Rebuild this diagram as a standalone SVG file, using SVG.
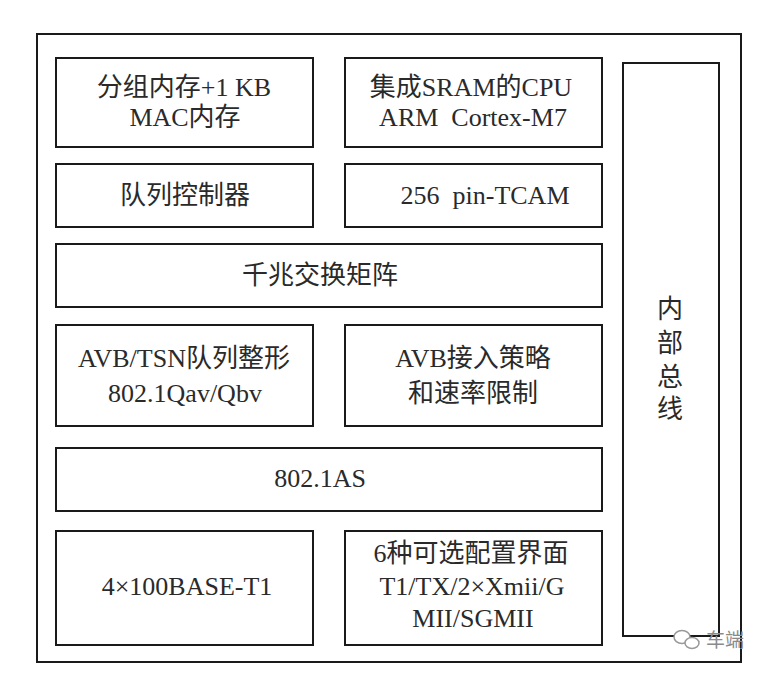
<svg xmlns="http://www.w3.org/2000/svg" width="770" height="674" viewBox="0 0 770 674">
<style>
.box{fill:#fff;stroke:#1a1a1a;stroke-width:2}
.t{font-family:"Liberation Serif","Noto Sans CJK SC",serif;font-size:26px;fill:#2a2a2a;text-anchor:middle}
.wm{font-family:"Noto Sans CJK SC",sans-serif;font-size:19px;fill:#8a8a8a}
</style>
<rect width="770" height="674" fill="#fff"/>
<g id="outer"><rect class="box" x="37" y="34" width="704" height="628"/></g>
<g id="mem"><rect class="box" x="56" y="58" width="257" height="89"/>
<text class="t" x="184" y="96">分组内存+1 KB</text><text class="t" x="185" y="126">MAC内存</text></g>
<g id="cpu"><rect class="box" x="345" y="58" width="257" height="89"/>
<text class="t" x="471" y="96">集成SRAM的CPU</text><text class="t" x="473" y="126" xml:space="preserve">ARM  Cortex-M7</text></g>
<g id="queue"><rect class="box" x="56" y="164" width="257" height="63"/>
<text class="t" x="185" y="204">队列控制器</text></g>
<g id="tcam"><rect class="box" x="345" y="164" width="257" height="63"/>
<text class="t" x="485" y="204" xml:space="preserve">256  pin-TCAM</text></g>
<g id="switch"><rect class="box" x="56" y="244" width="546" height="63"/>
<text class="t" x="320" y="284">千兆交换矩阵</text></g>
<g id="shaping"><rect class="box" x="56" y="325" width="257" height="101"/>
<text class="t" x="184" y="367">AVB/TSN队列整形</text><text class="t" x="185" y="402">802.1Qav/Qbv</text></g>
<g id="policy"><rect class="box" x="345" y="325" width="257" height="101"/>
<text class="t" x="473" y="367">AVB接入策略</text><text class="t" x="473" y="402">和速率限制</text></g>
<g id="as"><rect class="box" x="56" y="448" width="546" height="63"/>
<text class="t" x="320" y="487">802.1AS</text></g>
<g id="phy"><rect class="box" x="56" y="531" width="257" height="114"/>
<text class="t" x="187" y="595">4×100BASE-T1</text></g>
<g id="iface"><rect class="box" x="345" y="531" width="257" height="114"/>
<text class="t" x="471" y="562">6种可选配置界面</text><text class="t" x="472" y="595">T1/TX/2×Xmii/G</text><text class="t" x="473" y="627">MII/SGMII</text></g>
<g id="bus"><rect class="box" x="623" y="63" width="96" height="573"/>
<text class="t" x="670" y="318">内</text><text class="t" x="670" y="352">部</text><text class="t" x="670" y="386">总</text><text class="t" x="670" y="418">线</text></g>
<g id="connectors"></g>
<g id="watermark" fill="none" stroke="#999" stroke-width="1.5">
<ellipse cx="682" cy="637" rx="8" ry="6.5" fill="#fff"/>
<ellipse cx="692" cy="643" rx="7" ry="5.5" fill="#fff"/>
<text class="wm" x="706" y="647" stroke="none">车端</text>
</g>
</svg>
